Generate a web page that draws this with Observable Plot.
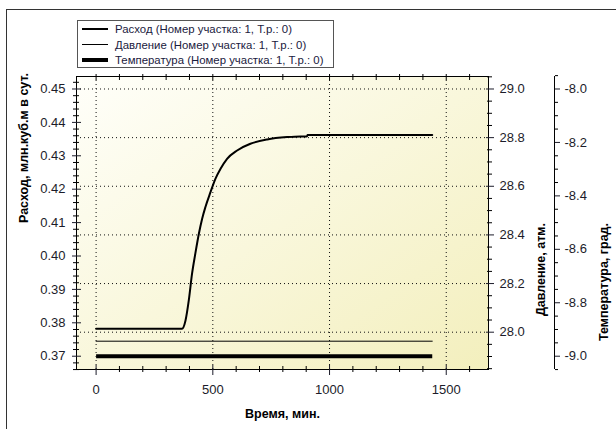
<!DOCTYPE html>
<html>
<head>
<meta charset="utf-8">
<script src="https://cdn.jsdelivr.net/npm/d3@7"></script>
<script src="https://cdn.jsdelivr.net/npm/@observablehq/plot@0.6"></script>
<style>
  html, body { margin: 0; padding: 0; background: #fff; }
  #wrap { position: relative; width: 616px; height: 429px; overflow: hidden; font-family: "Liberation Sans", Arial, sans-serif; }
  #wrap svg { position: absolute; left: 0; top: 0; }
  .bt { position: absolute; left: 6px; top: 9px; right: 0; height: 0; border-top: 1px solid #333; }
  .bl { position: absolute; left: 6px; top: 9px; bottom: 0; width: 0; border-left: 1px solid #333; }
  #legend { position: absolute; left: 77px; top: 20px; width: 257px; height: 48px; border: 1px solid #555; background: #fff; box-sizing: border-box; }
  .row { position: absolute; left: 0; height: 16px; width: 100%; }
  .sample { position: absolute; left: 4px; width: 26px; background: #000; }
  .ltxt { position: absolute; left: 37px; top: 0; font-size: 11.4px; line-height: 16px; color: #1a2040; white-space: nowrap; }
</style>
</head>
<body>
<div id="wrap">
  <div class="bt"></div>
  <div class="bl"></div>
</div>
<script>
// ---- data ----
const flowTime  = [0, 368, 383, 397, 411, 425, 440, 454, 468, 490, 511, 533, 561, 604, 661, 733, 818, 875, 903, 906, 1440];
const flowValue = [0.3782, 0.3782, 0.3807, 0.3867, 0.3947, 0.4007, 0.4066, 0.4111, 0.4146, 0.4191, 0.4231, 0.4261, 0.4291, 0.4316, 0.4336, 0.4349, 0.4356, 0.4358, 0.4358, 0.4362, 0.4362];
const pressTime  = [0, 1440];
const pressValue = [27.963, 27.963];
const tempTime  = [0, 1440];
const tempValue = [-9.0, -9.0];

const xTicks = [0, 500, 1000, 1500];
const flowTicks = [0.37, 0.38, 0.39, 0.40, 0.41, 0.42, 0.43, 0.44, 0.45];
const pressTicks = [28.0, 28.2, 28.4, 28.6, 28.8, 29.0];
const tempTicks = [-9.0, -8.8, -8.6, -8.4, -8.2, -8.0];

const legendNames = [
  "Расход (Номер участка: 1, Т.р.: 0)",
  "Давление (Номер участка: 1, Т.р.: 0)",
  "Температура (Номер участка: 1, Т.р.: 0)"
];
const legendWidths = [2, 1, 4];

const xLabel = "Время, мин.";
const flowLabel = "Расход, млн.куб.м в сут.";
const pressLabel = "Давление, атм.";
const tempLabel = "Температура, град.";

// ---- secondary axis mappings onto the flow scale ----
const p2f = p => 0.37719 + (p - 28.0) * 0.07281;
const f2p = f => 28.0 + (f - 0.37719) / 0.07281;
const t2f = t => 0.45 + (t + 8.0) * 0.08;
const f2t = f => -8.0 + (f - 0.45) / 0.08;

const xDomain = [-84, 1681];
const yDomain = [0.36602, 0.45374];

const near = (a, list, eps) => list.some(b => Math.abs(a - b) < eps);
const xMinor = d3.range(100, 1700, 100).filter(v => !near(v, xTicks, 1));
const flowMinor = d3.range(0.366, 0.4536, 0.002).filter(v => !near(v, flowTicks, 1e-4));
const pressMinor = d3.range(27.85, 29.06, 0.05).filter(v => !near(v, pressTicks, 1e-3));
const tempMinor = d3.range(-9.05, -7.94, 0.05).filter(v => !near(v, tempTicks, 1e-3));

const flowData = flowTime.map((t, i) => ({t, v: flowValue[i]}));
const pressData = pressTime.map((t, i) => ({t, v: p2f(pressValue[i])}));
const tempData = tempTime.map((t, i) => ({t, v: t2f(tempValue[i])}));

const blank = () => "";
const dots = {stroke: "#111", strokeOpacity: 1, strokeDasharray: "1,3", strokeWidth: 1};

const chart = Plot.plot({
  width: 616,
  height: 429,
  marginLeft: 76,
  marginRight: 128,
  marginTop: 76,
  marginBottom: 60,
  style: {fontFamily: "'Liberation Sans', Arial, sans-serif", fontSize: "13px", background: "transparent", overflow: "visible"},
  x: {domain: xDomain, label: null},
  y: {domain: yDomain, label: null},
  marks: [
    Plot.frame({fill: "url(#bggrad)", stroke: null}),
    Plot.gridY(pressTicks.map(p2f), dots),
    Plot.gridX(xTicks, dots),
    Plot.line(tempData, {x: "t", y: "v", stroke: "#000", strokeWidth: 4, strokeLinecap: "butt"}),
    Plot.line(pressData, {x: "t", y: "v", stroke: "#000", strokeWidth: 1}),
    Plot.line(flowData, {x: "t", y: "v", stroke: "#000", strokeWidth: 2, curve: "monotone-x"}),
    Plot.frame({stroke: "#000", strokeWidth: 1}),
    // left (flow) axis
    Plot.axisY(flowTicks, {anchor: "left", tickSize: 9, dx: 5, tickPadding: 7, tickFormat: d3.format(".2f"), fontSize: 13, color: "#1c1c2a", label: null}),
    Plot.axisY(flowMinor, {anchor: "left", tickSize: 6, dx: 3, tickFormat: blank, label: null}),
    // bottom / top x axis
    Plot.axisX(xTicks, {anchor: "bottom", tickSize: 10, dy: -4, tickPadding: 9, fontSize: 13, color: "#1c1c2a", tickFormat: d => String(d), label: null}),
    Plot.axisX(xMinor, {anchor: "bottom", tickSize: 6, dy: -3, tickFormat: blank, label: null}),
    Plot.axisX(xTicks.concat(xMinor), {anchor: "top", tickSize: 6, dy: 3, tickFormat: blank, label: null}),
    // right (pressure) axis
    Plot.axisY(pressTicks.map(p2f), {anchor: "right", tickSize: 8, dx: -3, tickPadding: 6, tickFormat: d => f2p(d).toFixed(1), fontSize: 13, color: "#1c1c2a", label: null}),
    Plot.axisY(pressMinor.map(p2f), {anchor: "right", tickSize: 5, dx: -2, tickFormat: blank, label: null}),
    // far right (temperature) axis
    Plot.ruleX([xDomain[1]], {dx: 66, stroke: "#000"}),
    Plot.axisY(tempTicks.map(t2f), {anchor: "right", tickSize: 5, dx: 66, tickPadding: 5, tickFormat: d => f2t(d).toFixed(1), fontSize: 13, color: "#1c1c2a", label: null}),
    Plot.axisY(tempMinor.map(t2f), {anchor: "right", tickSize: 3, dx: 66, tickFormat: blank, label: null}),
    // axis titles
    Plot.text([flowLabel], {frameAnchor: "left", dx: -53, rotate: -90, text: d => d, fontWeight: "bold", fontSize: 12.5, fill: "#000"}),
    Plot.text([pressLabel], {frameAnchor: "right", dx: 52, rotate: -90, text: d => d, fontWeight: "bold", fontSize: 12.5, fill: "#000"}),
    Plot.text([tempLabel], {frameAnchor: "right", dx: 115, rotate: -90, text: d => d, fontWeight: "bold", fontSize: 12.5, fill: "#000"}),
    Plot.text([xLabel], {frameAnchor: "bottom", dy: 48, text: d => d, fontWeight: "bold", fontSize: 12.5, fill: "#000"})
  ]
});

// background gradient for the plot area
const ns = "http://www.w3.org/2000/svg";
const defs = document.createElementNS(ns, "defs");
const grad = document.createElementNS(ns, "linearGradient");
grad.setAttribute("id", "bggrad");
grad.setAttribute("x1", "0"); grad.setAttribute("y1", "0");
grad.setAttribute("x2", "1"); grad.setAttribute("y2", "1");
[["0%", "#fffffa"], ["100%", "#f3efbd"]].forEach(([o, c]) => {
  const s = document.createElementNS(ns, "stop");
  s.setAttribute("offset", o); s.setAttribute("stop-color", c);
  grad.appendChild(s);
});
defs.appendChild(grad);
chart.insertBefore(defs, chart.firstChild);

const wrap = document.getElementById("wrap");
wrap.appendChild(chart);

// legend
const legend = document.createElement("div");
legend.id = "legend";
legendNames.forEach((name, i) => {
  const row = document.createElement("div");
  row.className = "row";
  row.style.top = (0 + i * 15.5) + "px";
  const s = document.createElement("div");
  s.className = "sample";
  s.style.height = legendWidths[i] + "px";
  s.style.top = (8 - legendWidths[i] / 2) + "px";
  const t = document.createElement("div");
  t.className = "ltxt";
  t.textContent = name;
  row.appendChild(s); row.appendChild(t);
  legend.appendChild(row);
});
wrap.appendChild(legend);
</script>
</body>
</html>
